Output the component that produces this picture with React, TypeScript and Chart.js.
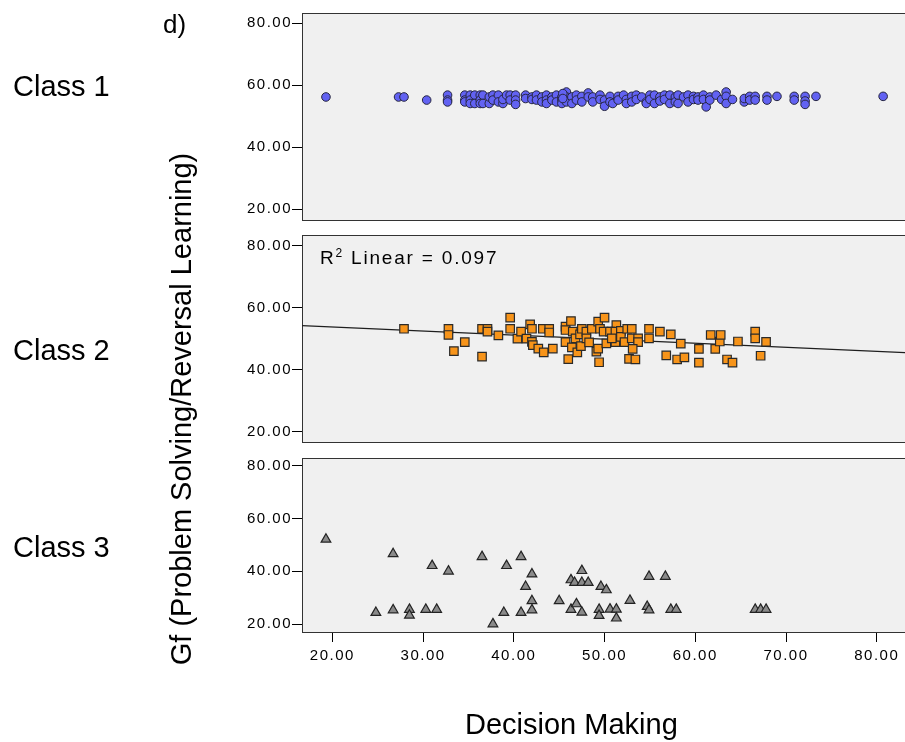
import React, { useEffect, useRef } from 'react';
import { Chart, registerables } from 'chart.js';

Chart.register(...registerables);

// ---------------- data ----------------
const xTickValues = [20, 30, 40, 50, 60, 70, 80];
const yTickValues = [20, 40, 60, 80];
const X_MIN = 16.66;
const X_MAX = 83.11;

// Class 1: [Decision Making, Gf]
const class1Points: number[][] = [
  [19.3, 56.2], [27.3, 56.2], [27.9, 56.2], [30.4, 55.2], [32.7, 56.8], [32.7, 55.2], [32.7, 54.6],
  [34.6, 56.8], [34.6, 55.2], [34.6, 54.6], [35.2, 56.8], [35.2, 55.2], [35.2, 54.1],
  [35.7, 56.8], [35.7, 54.1], [36.3, 56.8], [36.3, 55.2], [36.3, 54.1], [36.6, 56.8], [36.6, 54.1],
  [37.3, 54.1], [37.3, 56.2], [37.7, 56.8], [37.7, 55.2], [38.3, 56.8], [38.3, 54.6],
  [38.8, 54.1], [38.8, 55.4], [39.2, 56.8], [39.6, 56.8], [39.6, 55.2], [40.2, 56.8], [40.2, 55.2], [40.2, 53.8],
  [41.3, 56.8], [41.3, 55.7], [42.0, 56.2], [42.0, 55.4], [42.5, 56.8], [42.5, 55.2],
  [43.1, 56.2], [43.1, 54.6], [43.6, 56.8], [43.6, 55.2], [43.6, 54.1], [44.2, 56.2], [44.2, 55.2],
  [44.7, 56.8], [44.7, 54.6], [45.3, 56.2], [45.3, 55.2], [45.3, 54.1], [45.8, 57.8], [45.8, 56.2], [45.8, 54.6],
  [45.4, 57.3], [45.4, 55.7], [46.4, 56.2], [46.4, 54.1], [46.9, 56.8], [46.9, 55.2],
  [47.5, 56.4], [47.5, 54.6], [48.2, 57.5], [48.2, 56.2], [48.7, 56.2], [48.7, 54.6],
  [49.5, 56.8], [49.5, 55.4], [50.0, 55.2], [50.0, 53.2], [50.6, 56.4], [50.6, 54.6], [50.9, 54.1],
  [51.5, 56.4], [51.5, 55.2], [52.1, 56.8], [52.4, 55.4], [52.4, 54.1], [53.0, 56.4], [53.0, 54.6],
  [53.5, 56.8], [53.5, 55.4], [54.1, 56.2], [54.6, 54.6], [54.6, 54.1], [55.0, 56.8], [55.0, 55.4],
  [55.5, 56.8], [55.5, 54.1], [56.1, 56.2], [56.1, 54.9], [56.6, 56.8], [56.6, 55.4],
  [57.2, 56.8], [57.2, 54.1], [57.8, 56.2], [57.8, 54.6], [58.1, 56.8], [58.1, 54.1], [58.7, 56.2],
  [59.2, 56.8], [59.2, 54.6], [59.8, 56.4], [59.8, 55.4], [60.3, 56.2], [60.3, 55.2],
  [60.9, 56.8], [60.9, 55.4], [61.2, 53.0], [61.6, 56.2], [61.6, 55.2], [62.3, 56.8], [62.9, 55.4],
  [63.4, 57.8], [63.4, 56.4], [63.4, 54.1], [64.1, 55.4],
  [65.4, 54.6], [65.4, 55.7], [66.0, 56.4], [66.0, 55.2], [66.6, 56.4], [66.6, 55.2],
  [67.9, 56.4], [67.9, 55.2], [69.0, 56.4], [70.9, 56.4], [70.9, 55.2],
  [72.1, 56.4], [72.1, 54.9], [72.1, 53.8], [73.3, 56.4], [80.7, 56.4],
];

// Class 2
const class2Points: number[][] = [
  [27.9, 53.2], [32.8, 53.2], [32.8, 51.2], [33.4, 46.0], [34.6, 48.9], [36.5, 53.2], [37.1, 53.2],
  [37.1, 52.3], [36.5, 44.2], [38.3, 51.1], [39.6, 56.8], [39.6, 53.2], [40.4, 50.0], [40.8, 52.3],
  [41.8, 54.6], [42.0, 53.2], [41.4, 50.0], [42.0, 49.0], [42.1, 47.9], [42.7, 46.8], [43.2, 53.2],
  [43.3, 45.6], [43.9, 53.2], [43.9, 52.0], [44.3, 46.8], [45.7, 53.9], [45.7, 52.8], [45.7, 48.9],
  [46.0, 43.4], [46.3, 55.7], [46.5, 52.3], [46.4, 47.2], [47.0, 45.6], [46.8, 50.1], [47.3, 51.4],
  [47.5, 53.2], [47.4, 47.6], [48.0, 52.3], [48.6, 53.2], [48.0, 50.1], [48.3, 48.8], [49.3, 55.5],
  [50.0, 56.8], [49.5, 53.2], [49.1, 45.8], [49.3, 46.8], [49.4, 42.4], [49.9, 52.3], [50.2, 48.5],
  [50.8, 52.3], [51.3, 54.4], [51.3, 49.6], [50.6, 52.3], [51.2, 52.3], [51.8, 52.5], [51.2, 48.9],
  [50.8, 50.1], [51.8, 50.6], [52.2, 48.9], [52.5, 53.2], [53.0, 53.2], [53.0, 50.1], [53.7, 50.1],
  [53.7, 48.9], [53.1, 46.7], [52.7, 43.5], [53.4, 43.3], [54.9, 53.2], [54.9, 50.1], [56.1, 52.3],
  [57.3, 51.4], [56.8, 44.6], [58.0, 43.3], [58.4, 48.4], [58.8, 44.0], [60.4, 46.7], [60.4, 42.3],
  [61.7, 51.2], [62.2, 46.7], [62.7, 49.1], [62.8, 51.2], [63.5, 43.3], [64.1, 42.3], [64.7, 49.1],
  [66.6, 52.3], [66.6, 50.1], [67.2, 44.5], [67.8, 49.0],
];

// Linear fit line for Class 2 (end points at the axis limits)
const fitX = [16.66, 83.11];
const fitY = [54.2, 45.5];
const r2Text = '0.097';

// Class 3
const class3Points: number[][] = [
  [19.3, 52.1], [24.8, 24.3], [26.7, 46.6], [26.7, 25.3], [28.5, 25.5], [28.5, 23.3], [30.3, 25.5],
  [31.0, 42.1], [31.5, 25.5], [32.8, 40.0], [36.5, 45.5], [37.7, 20.0], [38.9, 24.3], [39.2, 42.1],
  [40.8, 45.5], [40.8, 24.3], [41.3, 34.2], [42.0, 38.9], [42.0, 28.8], [42.0, 25.3], [45.0, 28.8],
  [46.3, 36.7], [46.7, 35.7], [47.5, 40.2], [47.5, 35.7], [48.2, 35.7], [49.6, 34.2], [50.2, 32.9],
  [46.3, 25.5], [46.9, 27.6], [47.5, 24.4], [49.4, 25.5], [49.4, 23.2], [50.6, 25.6], [51.3, 25.6],
  [51.3, 22.2], [52.8, 28.9], [54.7, 26.6], [54.9, 25.3], [54.9, 38.0], [56.7, 38.0], [57.3, 25.5],
  [57.9, 25.5], [66.6, 25.5], [67.2, 25.5], [67.8, 25.5],
];

// ---------------- styling ----------------
const FONT = "'Liberation Sans', Arial, Helvetica, sans-serif";

const panelPlugin = {
  id: 'panelFrame',
  beforeDraw(chart: any) {
    const ctx = chart.ctx;
    ctx.letterSpacing = '1.5px';
    const a = chart.chartArea;
    ctx.save();
    ctx.fillStyle = '#f0f0f0';
    ctx.fillRect(a.left, a.top, a.right - a.left, a.bottom - a.top);
    ctx.restore();
  },
  beforeDatasetsDraw(chart: any) {
    const ctx = chart.ctx;
    const a = chart.chartArea;
    ctx.save();
    ctx.strokeStyle = '#333333';
    ctx.lineWidth = 1;
    ctx.strokeRect(a.left + 0.5, a.top + 0.5, a.right - a.left, a.bottom - a.top);
    ctx.restore();
  },
};

function toXY(points: number[][]) {
  return points.map((p) => ({ x: p[0], y: p[1] }));
}

function makeChart(
  canvas: HTMLCanvasElement,
  datasets: any[],
  yMin: number,
  yMax: number,
  showX: boolean,
  padTop: number,
  padBottom: number
) {
  const tickFont = { family: FONT, size: 15 };
  return new Chart(canvas, {
    type: 'scatter',
    data: { datasets },
    plugins: [panelPlugin],
    options: {
      responsive: false,
      maintainAspectRatio: false,
      animation: false,
      events: [],
      layout: { autoPadding: false, padding: { top: padTop, bottom: padBottom, left: 0, right: 0 } },
      plugins: { legend: { display: false }, tooltip: { enabled: false }, title: { display: false } },
      scales: {
        x: {
          type: 'linear',
          display: showX,
          min: X_MIN,
          max: X_MAX,
          afterBuildTicks: (s: any) => {
            s.ticks = xTickValues.map((v) => ({ value: v }));
          },
          ticks: {
            callback: (v: any) => Number(v).toFixed(2),
            color: '#000',
            font: tickFont,
            padding: 5,
            maxRotation: 0,
            autoSkip: false,
          },
          grid: { display: true, drawOnChartArea: false, drawTicks: true, tickLength: 10, color: '#000', lineWidth: 1 },
          border: { display: false },
          afterFit: (s: any) => {
            if (showX) s.height = 110;
            s.paddingLeft = 0;
            s.paddingRight = 0;
          },
        },
        y: {
          type: 'linear',
          position: 'left',
          min: yMin,
          max: yMax,
          afterBuildTicks: (s: any) => {
            s.ticks = yTickValues.map((v) => ({ value: v }));
          },
          ticks: {
            callback: (v: any) => Number(v).toFixed(2),
            color: '#000',
            font: tickFont,
            padding: 0,
            autoSkip: false,
          },
          grid: { display: true, drawOnChartArea: false, drawTicks: true, tickLength: 10, color: '#000', lineWidth: 1 },
          border: { display: false },
          afterFit: (s: any) => {
            s.width = 302;
            s.paddingTop = 0;
            s.paddingBottom = 0;
          },
        },
      },
    } as any,
  });
}

export default function App() {
  const c1 = useRef<HTMLCanvasElement>(null);
  const c2 = useRef<HTMLCanvasElement>(null);
  const c3 = useRef<HTMLCanvasElement>(null);

  useEffect(() => {
    const charts: Chart[] = [];
    charts.push(
      makeChart(
        c1.current!,
        [
          {
            data: toXY(class1Points),
            pointStyle: 'circle',
            pointRadius: 4.3,
            backgroundColor: '#6262f2',
            borderColor: '#262640',
            borderWidth: 1,
          },
        ],
        16.45,
        83.33,
        false,
        13,
        12
      )
    );
    charts.push(
      makeChart(
        c2.current!,
        [
          {
            type: 'line',
            data: fitX.map((x, i) => ({ x, y: fitY[i] })),
            borderColor: '#1e1e1e',
            borderWidth: 1.2,
            pointRadius: 0,
            fill: false,
            order: 1,
          },
          {
            data: toXY(class2Points),
            pointStyle: 'rect',
            pointRadius: 6,
            backgroundColor: '#f7941a',
            borderColor: '#2a2a2a',
            borderWidth: 1.2,
            order: 0,
          },
        ],
        16.68,
        83.45,
        false,
        3,
        12
      )
    );
    charts.push(
      makeChart(
        c3.current!,
        [
          {
            data: toXY(class3Points),
            pointStyle: 'triangle',
            pointRadius: 5.6,
            backgroundColor: '#8a8a8a',
            borderColor: '#222222',
            borderWidth: 1.2,
          },
        ],
        16.97,
        82.92,
        true,
        4,
        0
      )
    );
    return () => charts.forEach((c) => c.destroy());
  }, []);

  const txt = (size: number): React.CSSProperties => ({
    position: 'absolute',
    fontFamily: FONT,
    fontSize: size,
    lineHeight: `${size}px`,
    whiteSpace: 'nowrap',
    color: '#000',
  });

  return (
    <div style={{ position: 'absolute', left: 0, top: 0, width: 905, height: 742, background: '#fff', overflow: 'hidden' }}>
      <canvas ref={c1} width={905} height={232} style={{ position: 'absolute', left: 0, top: 0 }} />
      <canvas ref={c2} width={905} height={222} style={{ position: 'absolute', left: 0, top: 232 }} />
      <canvas ref={c3} width={905} height={288} style={{ position: 'absolute', left: 0, top: 454 }} />

      <div style={{ ...txt(26), left: 163, top: 11 }}>d)</div>
      <div style={{ ...txt(29), left: 13, top: 72 }}>Class 1</div>
      <div style={{ ...txt(29), left: 13, top: 336 }}>Class 2</div>
      <div style={{ ...txt(29), left: 13, top: 533 }}>Class 3</div>
      <div
        style={{
          ...txt(29),
          left: 181,
          top: 409,
          transform: 'translate(-50%, -50%) rotate(-90deg)',
        }}
      >
        Gf (Problem Solving/Reversal Learning)
      </div>
      <div style={{ ...txt(29), left: 465, top: 710 }}>Decision Making</div>
      <div style={{ ...txt(19), left: 320, top: 248, letterSpacing: '1.8px' }}>
        R<span style={{ fontSize: 12, position: 'relative', top: -7 }}>2</span> Linear = {r2Text}
      </div>
    </div>
  );
}
